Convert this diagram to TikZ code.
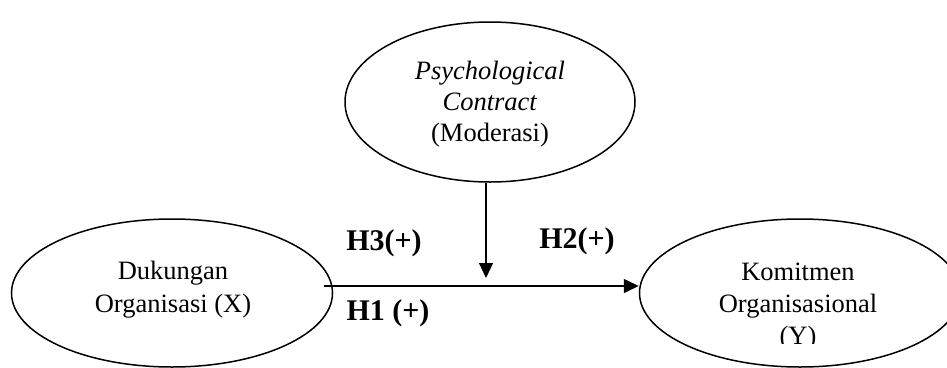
\documentclass[tikz,border=0pt]{standalone}
\usepackage{fontspec}
\setmainfont{Liberation Serif}
\usetikzlibrary{shapes.geometric,arrows.meta,calc}
\begin{document}
\begin{tikzpicture}[x=1pt,y=-1pt,
  var/.style={draw=black,line width=1.5pt,ellipse,inner sep=0pt},
  vtext/.style={align=center,font=\fontsize{26.5}{31}\selectfont,inner sep=0pt},
  hyp/.style={font=\fontsize{30}{32}\selectfont\bfseries,inner sep=0pt},
  conn/.style={line width=1.6pt,-{Triangle[length=15pt,width=14pt]}}]
\clip (0,0) rectangle (947,367);
\node[var,minimum width=290pt,minimum height=160pt] (M) at (490,102) {};
\node[vtext] (Mt) at (490,104) {\textit{Psychological}\\\textit{Contract}\\(Moderasi)};
\node[var,minimum width=321pt,minimum height=148pt] (X) at (172,293) {};
\node[vtext,align=center,font=\fontsize{26.5}{33}\selectfont] (Xt) at (173,290) {Dukungan\\Organisasi (X)};
\node[var,minimum width=321pt,minimum height=148pt] (Y) at (800,293) {};
\begin{scope}
\clip (600,200) rectangle (947,343);
\node[vtext,font=\fontsize{26.5}{32}\selectfont] (Yt) at (798,307) {Komitmen\\Organisasional\\(Y)};
\end{scope}
\coordinate (start) at ($(X.east)+(-9,-7)$);
\draw[conn] (start) -- (start -| Y.west);
\coordinate (vtop) at ($(M.south)+(-4,0)$);
\coordinate (vend) at ($(vtop |- start)+(0,-8)$);
\draw[conn,line width=1.2pt] (vtop) -- (vend);
\node[hyp] (H3) at (384,243) {H3(+)};
\node[hyp] (H1) at (388,313) {H1 (+)};
\node[hyp] (H2) at (577,241) {H2(+)};
\end{tikzpicture}
\end{document}
